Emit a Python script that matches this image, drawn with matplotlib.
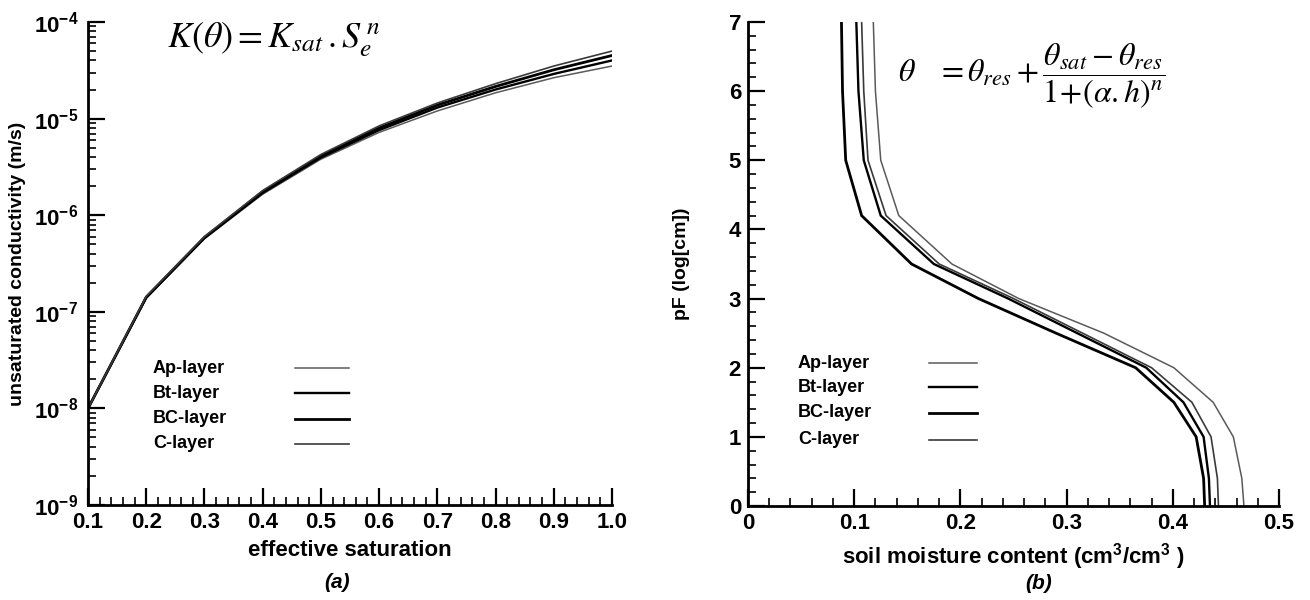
import numpy as np
import matplotlib
matplotlib.use("Agg")
import matplotlib.pyplot as plt
from matplotlib.ticker import MultipleLocator, FuncFormatter, NullFormatter, FixedLocator

# ---------------- data ----------------
layers = ["Ap-layer", "Bt-layer", "BC-layer", "C-layer"]

# (a) unsaturated conductivity vs effective saturation
se = [0.1, 0.2, 0.3, 0.4, 0.5, 0.6, 0.7, 0.8, 0.9, 1.0]
k_ap = [1.0e-8, 1.38e-7, 5.7e-7, 1.65e-6, 3.8e-6, 7.2e-6, 1.20e-5, 1.85e-5, 2.65e-5, 3.5e-5]
k_bt = [1.0e-8, 1.40e-7, 5.8e-7, 1.70e-6, 3.95e-6, 7.6e-6, 1.30e-5, 2.00e-5, 2.90e-5, 4.0e-5]
k_bc = [1.0e-8, 1.42e-7, 5.9e-7, 1.75e-6, 4.10e-6, 8.0e-6, 1.38e-5, 2.15e-5, 3.20e-5, 4.5e-5]
k_c = [1.0e-8, 1.44e-7, 6.0e-7, 1.80e-6, 4.25e-6, 8.4e-6, 1.45e-5, 2.30e-5, 3.50e-5, 5.0e-5]
k_ticks = [1e-9, 1e-8, 1e-7, 1e-6, 1e-5, 1e-4]

# (b) retention curves: pF vs soil moisture content
pf = [0.0, 0.4, 1.0, 1.5, 2.0, 2.5, 3.0, 3.5, 4.2, 5.0, 6.0, 7.0]
th_ap = [0.467, 0.465, 0.457, 0.438, 0.401, 0.335, 0.255, 0.192, 0.142, 0.125, 0.120, 0.118]
th_bt = [0.435, 0.434, 0.429, 0.410, 0.375, 0.310, 0.245, 0.175, 0.125, 0.109, 0.104, 0.102]
th_bc = [0.430, 0.429, 0.422, 0.401, 0.365, 0.290, 0.217, 0.154, 0.107, 0.092, 0.089, 0.088]
th_c = [0.443, 0.442, 0.436, 0.418, 0.380, 0.315, 0.250, 0.180, 0.130, 0.113, 0.109, 0.107]

styles = {
    "Ap-layer": dict(color="#5a5a5a", lw=1.1),
    "Bt-layer": dict(color="black", lw=1.7),
    "BC-layer": dict(color="black", lw=2.0),
    "C-layer": dict(color="#3a3a3a", lw=1.2),
}

# ---------------- style ----------------
plt.rcParams["font.family"] = ["Liberation Sans", "DejaVu Sans"]
plt.rcParams["font.weight"] = "normal"
plt.rcParams["mathtext.fontset"] = "custom"
plt.rcParams["mathtext.rm"] = "Liberation Sans:bold"
plt.rcParams["mathtext.bf"] = "Liberation Sans:bold"
plt.rcParams["mathtext.it"] = "Liberation Sans:bold:italic"

W, H = 1310, 600
fig = plt.figure(figsize=(W / 100, H / 100), dpi=100)


def px_axes(x0, y0, x1, y1):
    return fig.add_axes([x0 / W, 1 - y1 / H, (x1 - x0) / W, (y1 - y0) / H])


ax1 = px_axes(88, 22, 612, 505)
ax2 = px_axes(748, 22, 1279, 506)

for ax in (ax1, ax2):
    for s in ("top", "right"):
        ax.spines[s].set_visible(False)
    for s in ("left", "bottom"):
        ax.spines[s].set_linewidth(2.0)
    ax.tick_params(which="major", direction="in", length=12, width=1.6, labelsize=16, pad=5)
    ax.tick_params(which="minor", direction="in", length=6, width=1.2)

# ---------- panel (a) ----------
for name, vals in zip(layers, [k_ap, k_bt, k_bc, k_c]):
    ax1.plot(se, vals, **styles[name], solid_joinstyle="miter")
ax1.set_yscale("log")
ax1.set_xlim(0.1, 1.0)
ax1.set_ylim(1e-9, 1e-4)
ax1.xaxis.set_major_locator(MultipleLocator(0.1))
ax1.xaxis.set_minor_locator(MultipleLocator(0.02))
ax1.xaxis.set_major_formatter(FuncFormatter(lambda v, p: "%.1f" % v))
ax1.yaxis.set_major_locator(FixedLocator(k_ticks))
minor_k = [m * d for d in k_ticks[:-1] for m in range(2, 10)]
ax1.yaxis.set_minor_locator(FixedLocator(minor_k))
ax1.yaxis.set_minor_formatter(NullFormatter())
ax1.yaxis.set_major_formatter(FuncFormatter(lambda v, p: r"$\mathbf{10^{%d}}$" % int(round(np.log10(v)))))
ax1.tick_params(axis="y", which="major", pad=7)
ax1.set_xlabel("effective saturation", fontsize=16, fontweight="bold")
ax1.set_ylabel("unsaturated conductivity (m/s)", fontsize=14, fontweight="bold")
ax1.xaxis.set_label_coords(0.5, -0.072)
ax1.yaxis.set_label_coords(-0.118, 0.5)

# legend (a)
leg_y1 = [0.283, 0.231, 0.179, 0.127]
for name, yy in zip(layers, leg_y1):
    ax1.text(0.124, yy, name, transform=ax1.transAxes, fontsize=13, fontweight="bold", va="center", ha="left")
    ax1.plot([0.395, 0.498], [yy, yy], transform=ax1.transAxes, **styles[name])

ax1.text(0.475, -0.160, "(a)", transform=ax1.transAxes, fontsize=15, fontweight="bold", style="italic",
         ha="center", va="center")

fig.text(167 / W, 1 - 40 / H, r"$K(\theta) = K_{sat}\,.S_e^{\,n}$", fontsize=26, math_fontfamily="stix",
         ha="left", va="center")

# ---------- panel (b) ----------
for name, vals in zip(layers, [th_ap, th_bt, th_bc, th_c]):
    ax2.plot(vals, pf, **styles[name], solid_joinstyle="miter")
ax2.set_xlim(0, 0.5)
ax2.set_ylim(0, 7)
ax2.xaxis.set_major_locator(FixedLocator([0, 0.1, 0.2, 0.3, 0.4, 0.5]))
ax2.xaxis.set_minor_locator(MultipleLocator(0.02))
ax2.xaxis.set_major_formatter(FuncFormatter(lambda v, p: "0" if abs(v) < 1e-9 else "%.1f" % v))
ax2.yaxis.set_major_locator(MultipleLocator(1))
ax2.yaxis.set_minor_locator(MultipleLocator(0.2))
ax2.set_xlabel(r"soil moisture content (cm$^{\mathbf{3}}$/cm$^{\mathbf{3}}$ )", fontsize=16, fontweight="bold")
ax2.set_ylabel("pF (log[cm])", fontsize=14, fontweight="bold")
ax2.xaxis.set_label_coords(0.5, -0.072)
ax2.yaxis.set_label_coords(-0.109, 0.5)

leg_y2 = [0.295, 0.245, 0.193, 0.137]
for name, yy in zip(layers, leg_y2):
    ax2.text(0.094, yy, name, transform=ax2.transAxes, fontsize=13, fontweight="bold", va="center", ha="left")
    ax2.plot([0.341, 0.431], [yy, yy], transform=ax2.transAxes, **styles[name])

ax2.text(0.547, -0.160, "(b)", transform=ax2.transAxes, fontsize=15, fontweight="bold", style="italic",
         ha="center", va="center")

fig.text(898 / W, 1 - 76 / H,
         r"$\theta\quad = \theta_{res} + \dfrac{\theta_{sat} - \theta_{res}}{1\!+\!(\alpha.h)^{n}}$",
         fontsize=23, math_fontfamily="stix", ha="left", va="center")

for ax in (ax1, ax2):
    for lbl in ax.get_xticklabels() + ax.get_yticklabels():
        lbl.set_fontweight("bold")

fig.savefig("out.png", dpi=100)
